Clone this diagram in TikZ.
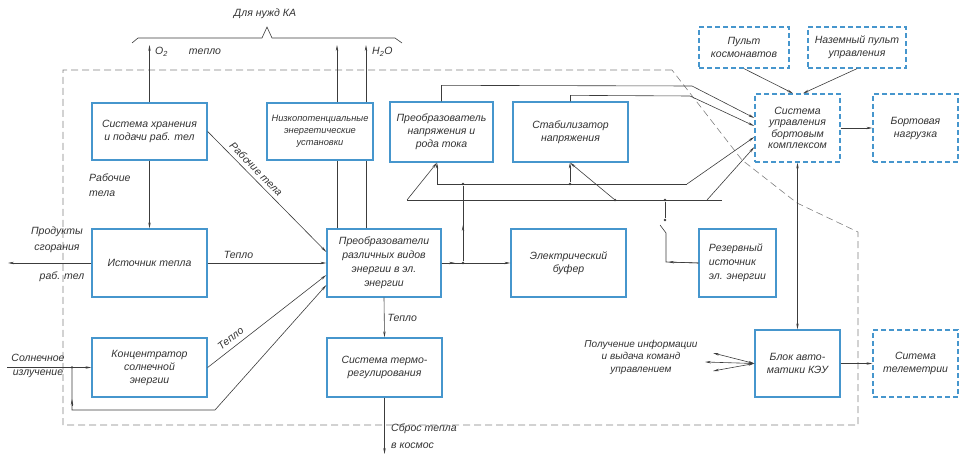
\documentclass[tikz,border=0pt]{standalone}
\usepackage{fontspec}
\setmainfont{Liberation Sans}
\usetikzlibrary{arrows.meta,calc}
\definecolor{bblue}{RGB}{70,150,205}
\definecolor{lc}{RGB}{60,60,60}
\definecolor{txt}{RGB}{50,50,50}
\begin{document}
\begin{tikzpicture}[x=1pt,y=-1pt,
  every node/.style={font=\fontsize{10.5}{13}\selectfont\itshape, text=txt},
  box/.style={draw=bblue, line width=1.3pt, align=center, inner sep=1pt},
  dbox/.style={box, dash pattern=on 5pt off 3pt},
  ln/.style={draw=lc, line width=0.6pt},
  arr/.style={ln, -{Stealth[length=6pt,width=2.4pt]}},
  darr/.style={ln, {Stealth[length=6pt,width=2.4pt]}-{Stealth[length=6pt,width=2.4pt]}},
  jdot/.style={circle, fill=lc, inner sep=0pt, minimum size=2.8pt},
  bound/.style={draw=gray, line width=0.6pt, dash pattern=on 7pt off 4pt},
  lab/.style={inner sep=0pt, align=center}
]
\useasboundingbox (0,0) rectangle (962,457);

% outer boundary
\draw[bound] (672,70) -- (63,70) -- (63,425) -- (858,425) -- (858,232) -- (797,203) -- (742,160) -- cycle;

% boxes
\node[box, minimum width=115pt, minimum height=57pt] (sh) at (149.5,131.5) {Система хранения\\и подачи раб. тел};
\node[box, minimum width=106pt, minimum height=57pt, font=\fontsize{9.3}{12}\selectfont\itshape] (nz) at (320,131.5) {Низкопотенциальные\\энергетические\\установки};
\node[box, minimum width=103pt, minimum height=60pt] (pn) at (441.5,132) {Преобразователь\\напряжения и\\рода тока};
\node[box, minimum width=115pt, minimum height=60pt] (st) at (570.5,132) {Стабилизатор\\напряжения};
\node[dbox, minimum width=85pt, minimum height=68pt, font=\fontsize{10.5}{11.5}\selectfont\itshape] (su) at (797.5,128) {Система\\управления\\бортовым\\комплексом};
\node[dbox, minimum width=85pt, minimum height=68pt] (bn) at (915.5,128) {Бортовая\\нагрузка};
\node[dbox, minimum width=90pt, minimum height=41pt] (pk) at (744,47.5) {Пульт\\космонавтов};
\node[dbox, minimum width=98pt, minimum height=41pt] (np) at (857,47.5) {Наземный пульт\\управления};
\node[box, minimum width=115pt, minimum height=68pt] (it) at (149.5,263) {Источник тепла};
\node[box, minimum width=114pt, minimum height=68pt, font=\fontsize{10.5}{14}\selectfont\itshape] (pr) at (384,263) {Преобразователи\\различных видов\\энергии в эл.\\энергии};
\node[box, minimum width=115pt, minimum height=68pt] (eb) at (568.5,263) {Электрический\\буфер};
\node[box, minimum width=77pt, minimum height=68pt, align=left, font=\fontsize{10.5}{14}\selectfont\itshape] (rz) at (737.5,263) {Резервный\\источник\\эл. энергии};
\node[box, minimum width=115pt, minimum height=59pt] (ks) at (149.5,367.5) {Концентратор\\солнечной\\энергии};
\node[box, minimum width=115pt, minimum height=59pt] (tr) at (384.5,367.5) {Система термо-\\регулирования};
\node[box, minimum width=85pt, minimum height=67pt] (ba) at (797.5,363.5) {Блок авто-\\матики КЭУ};
\node[dbox, minimum width=85pt, minimum height=67pt] (tm) at (915.5,363.5) {Ситема\\телеметрии};

% top bracket and outputs
\node (kaneeds) at (265,14) {Для нужд КА};
\draw[ln] (132,43) -- (138,38) -- (262,38) -- (267,27) -- (272,38) -- (395,38) -- (402,43);
\coordinate (o2) at (149.5,45);
\coordinate (tq) at (337,45);
\coordinate (hw) at (366,45);
\draw[arr] (sh.north) -- (o2);
\draw[arr] (nz.north -| tq) -- (tq);
\draw[arr] (nz.north -| hw) -- (hw);
\draw[ln] (pr.north -| tq) -- (nz.south -| tq);
\draw[ln] (pr.north -| hw) -- (nz.south -| hw);
\node[lab, anchor=west] (lo2) at (155,52) {O\textsubscript{2}};
\node[lab] (lteplo) at (205,52) {тепло};
\node[lab, anchor=west] (lh2o) at (372,52) {H\textsubscript{2}O};

% left column
\draw[arr] (sh.south) -- (it.north);
\node[lab, align=left, anchor=west, font=\fontsize{10.5}{15}\selectfont\itshape] (lrt) at (89,185) {Рабочие\\тела};
\draw[arr] (sh.east) -- node[pos=0.36, above=4pt, sloped, lab] {Рабочие тела} ([yshift=11pt]pr.west);
\draw[arr] (it.east) -- node[pos=0.26, above=4pt, lab] {Тепло} (pr.west);
\coordinate (pc) at (8,263);
\draw[arr] (it.west) -- (pc);
\node[lab, font=\fontsize{10.5}{16}\selectfont\itshape] (lpc) at (57,240) {Продукты\\сгорания};
\node[lab] (lrab) at (62,277) {раб. тел};
\draw[arr] (ks.east) -- node[pos=0.24, above=5pt, sloped, lab] {Тепло} ([yshift=-12pt]pr.west);
\coordinate (sol) at (7,367.5);
\node[jdot] (sd) at (72,367.5) {};
\draw[arr] (sol) -- (ks.west);
\coordinate (lb1) at (72,410);
\coordinate (lb2) at (215,410);
\draw[arr] (sd) -- (lb1) -- (lb2) -- ([yshift=-22pt]pr.west);
\draw[arr] (72,406) -- (72,399);
\node[lab, font=\fontsize{10.5}{14}\selectfont\itshape] (lsol) at (38,366) {Солнечное\\излучение};

% thermal
\draw[arr] (pr.south) -- node[right=3pt, lab] {Тепло} (tr.north);
\coordinate (sp) at (384.5,454);
\draw[arr] (tr.south) -- (sp);
\node[lab, align=left, anchor=west, font=\fontsize{10.5}{17}\selectfont\itshape] (lsbr) at (391,436) {Сброс тепла\\в космос};

% electric bus
\node[jdot] (j1) at (463,263) {};
\draw[arr] (pr.east) -- (eb.west);
\draw[arr] (pr.east) -- (455,263);
\node[jdot] (j2) at (463,184) {};
\draw[ln] (j1) -- (j2);
\draw[arr] (j1) -- (463,225);
\coordinate (b1a) at (437,184);
\coordinate (b1b) at (687,184);
\draw[ln] (b1a) -- (b1b);
\draw[arr] (b1a) -- (pn.south -| b1a);
\draw[arr] (b1b) -- ([yshift=-9pt]su.west);
\node[jdot] (j3) at (570,184) {};
\draw[arr] (j3) -- (st.south -| j3);
\coordinate (b2a) at (407,200);
\coordinate (b2b) at (722,200);
\draw[ln] (b2a) -- (b2b);
\draw[arr] (b2a) -- (pn.south -| b1a);
\node[jdot] (j4) at (615,200) {};
\draw[arr] (j4) -- (st.south -| j3);
\coordinate (b2c) at (707,200);
\draw[arr] (b2c) -- ([yshift=-19pt]su.west);
\node[jdot] (j5) at (665,200) {};
\node[jdot] (j6) at (665,220) {};
\draw[ln] (j5) -- (j6);
\coordinate (sw1) at (660,225);
\coordinate (sw2) at (666,233);
\coordinate (sw3) at (666,262);
\draw[ln] (sw1) -- (sw2) -- (sw3) -- (rz.west);
\draw[arr] (rz.west) -- (668,262);

% top lines to control system
\draw[arr] (pn.north) -- ++(0,-16) -- (692,86) -- ([yshift=10pt]su.west);
\draw[arr] (st.north) -- ++(0,-6) -- (690,96) -- ([yshift=2pt]su.west);

% control system links
\draw[arr] (su.east) -- (bn.west);
\draw[arr] (pk.south) -- ([xshift=-4.5pt]su.north);
\draw[arr] (np.south) -- ([xshift=5.5pt]su.north);
\draw[darr] (su.south) -- (ba.north);
\draw[arr] (ba.east) -- (tm.west);
\coordinate (i1) at (713,353);
\coordinate (i2) at (705,362);
\coordinate (i3) at (713,371);
\draw[darr] (i1) -- (ba.west);
\draw[darr] (i2) -- (ba.west);
\draw[darr] (i3) -- (ba.west);
\node[lab, font=\fontsize{10}{12.5}\selectfont\itshape] (linfo) at (641,357) {Получение информации\\и выдача команд\\управлением};
\end{tikzpicture}
\end{document}
